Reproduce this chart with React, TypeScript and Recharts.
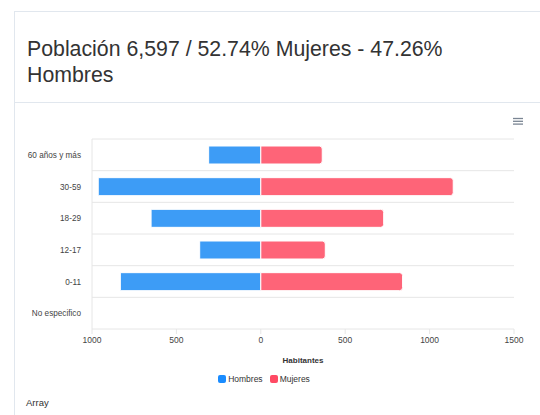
import React from 'react';
import { BarChart, Bar, XAxis, YAxis, CartesianGrid, Legend, Label } from 'recharts';

const categories = ['60 años y más', '30-59', '18-29', '12-17', '0-11', 'No especifico'];
const hombres = [309, 963, 650, 362, 832, 0];
const mujeres = [364, 1140, 728, 382, 840, 0];
const xTicks = [-1000, -500, 0, 500, 1000, 1500];
const seriesNames = ['Hombres', 'Mujeres'];
const barColors = ['#3d9cf6', '#fe6478'];
const legendColors = ['#1a8cff', '#ff4a64'];

const data = categories.map((label, i) => ({
  label,
  hombres: -hombres[i],
  mujeres: mujeres[i],
}));

const FONT = '"Liberation Sans", Arial, Helvetica, sans-serif';
const BORDER = '#e1e7ee';

// plain svg text so long category names stay on one line
const CategoryTick = ({ x, y, payload }: any) => (
  <text x={x} y={y} dy={3} textAnchor="end" fontSize={8.2} fill="#444" fontFamily={FONT}>
    {payload.value}
  </text>
);

const LegendContent = () => (
  <div
    style={{
      display: 'flex',
      justifyContent: 'center',
      alignItems: 'center',
      height: 20,
      fontFamily: FONT,
      fontSize: 8.5,
      color: '#333',
    }}
  >
    {seriesNames.map((name, i) => (
      <span key={name} style={{ display: 'flex', alignItems: 'center', marginRight: i === 0 ? 7 : 0 }}>
        <span
          style={{
            width: 8,
            height: 8,
            borderRadius: 2,
            background: legendColors[i],
            marginRight: 2,
            display: 'inline-block',
          }}
        />
        {name}
      </span>
    ))}
  </div>
);

export default function App() {
  return (
    <div
      style={{
        position: 'absolute',
        left: 0,
        top: 0,
        width: 540,
        height: 415,
        background: '#fff',
        overflow: 'hidden',
        fontFamily: FONT,
      }}
    >
      {/* card frame */}
      <div style={{ position: 'absolute', left: 14, top: 11, width: 540, height: 420, borderLeft: `1px solid ${BORDER}`, borderTop: `1px solid ${BORDER}` }} />
      <div style={{ position: 'absolute', left: 14, top: 102, width: 530, height: 0, borderTop: `1px solid ${BORDER}` }} />

      <div
        style={{
          position: 'absolute',
          left: 27,
          top: 36,
          width: 450,
          fontSize: 21.3,
          lineHeight: '26px',
          color: '#333',
        }}
      >
        Población 6,597 / 52.74% Mujeres - 47.26% Hombres
      </div>

      {/* menu icon */}
      <svg style={{ position: 'absolute', left: 512, top: 116 }} width={12} height={10}>
        {[0, 1, 2].map((i) => (
          <line key={i} x1={1} x2={11} y1={2.5 + i * 2.8} y2={2.5 + i * 2.8} stroke="#7a8593" strokeWidth={1.3} />
        ))}
      </svg>

      <div style={{ position: 'absolute', left: 14, top: 105 }}>
        <BarChart
          width={526}
          height={295}
          data={data}
          layout="vertical"
          stackOffset="sign"
          barSize={18}
          margin={{ top: 34, right: 26, bottom: 11, left: 0 }}
        >
          <CartesianGrid
            vertical={false}
            stroke="#e6e6e6"
            horizontalCoordinatesGenerator={({ offset }: any) =>
              categories.map((_, i) => offset.top + (i * offset.height) / categories.length)
            }
          />
          <XAxis
            type="number"
            domain={[-1000, 1500]}
            ticks={xTicks}
            tickFormatter={(v: number) => String(Math.abs(v))}
            height={40}
            tickSize={5}
            tickMargin={3}
            stroke="#e6e6e6"
            tick={{ fontSize: 8.5, fill: '#444', fontFamily: FONT }}
          >
            <Label
              value="Habitantes"
              position="insideBottom"
              offset={6}
              style={{ fontSize: 8, fontWeight: 'bold', fill: '#333', fontFamily: FONT }}
            />
          </XAxis>
          <YAxis
            type="category"
            dataKey="label"
            width={78}
            tickLine={false}
            tickSize={0}
            tickMargin={11}
            axisLine={{ stroke: '#e6e6e6' }}
            tick={<CategoryTick />}
          />
          <Legend verticalAlign="bottom" content={<LegendContent />} />
          <Bar
            dataKey="hombres"
            name={seriesNames[0]}
            stackId="p"
            fill={barColors[0]}
            stroke="#fff"
            strokeWidth={1}
            isAnimationActive={false}
          />
          <Bar
            dataKey="mujeres"
            name={seriesNames[1]}
            stackId="p"
            fill={barColors[1]}
            stroke="#fff"
            strokeWidth={1}
            radius={[0, 3, 3, 0]}
            isAnimationActive={false}
          />
        </BarChart>
      </div>

      <div style={{ position: 'absolute', left: 26, top: 397, fontSize: 9.5, color: '#333' }}>Array</div>
    </div>
  );
}
